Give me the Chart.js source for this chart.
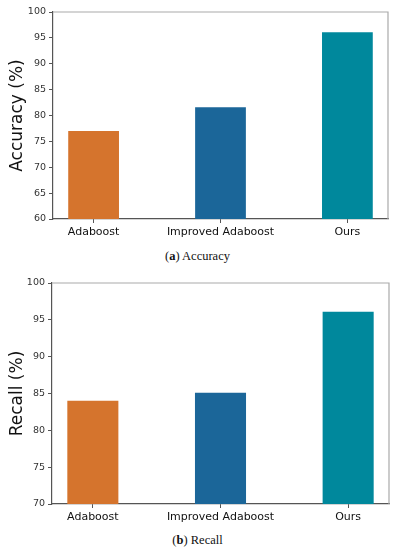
<!DOCTYPE html>
<html>
<head>
<meta charset="utf-8">
<script src="https://cdn.jsdelivr.net/npm/chart.js@4"></script>
<style>
  body { margin: 0; background: #fff; width: 395px; height: 550px; position: relative; overflow: hidden; }
  canvas { position: absolute; left: 0; }
  .caption { position: absolute; left: 0; width: 395px; text-align: center; font-family: "Liberation Serif", "DejaVu Serif", serif; font-size: 12.5px; color: #111; }
</style>
</head>
<body>
<div style="position:absolute;top:0;left:0;width:395px;height:245px"><canvas id="accChart"></canvas></div>
<div class="caption" style="top:249px">(<b>a</b>) Accuracy</div>
<div style="position:absolute;top:260px;left:0;width:395px;height:270px"><canvas id="recChart"></canvas></div>
<div class="caption" style="top:533px">(<b>b</b>) Recall</div>
<script>
const categories = ['Adaboost', 'Improved Adaboost', 'Ours'];
const barColors = ['#D5742D', '#1B6699', '#00889C'];
const accuracy = [77, 81.6, 96.1];
const recall = [84, 85.1, 96.1];
const accuracyRange = [60, 100];
const recallRange = [70, 100];

// light grey top/right frame like the matplotlib spines
const framePlugin = {
    id: 'frame',
    afterDraw(chart) {
        const a = chart.chartArea;
        const ctx = chart.ctx;
        ctx.save();
        ctx.strokeStyle = '#aaa';
        ctx.lineWidth = 1.2;
        ctx.beginPath();
        ctx.moveTo(a.left, a.top);
        ctx.lineTo(a.right, a.top);
        ctx.lineTo(a.right, a.bottom);
        ctx.stroke();
        ctx.restore();
    }
};

function makeChart(id, values, title, range, pad) {
    const ctx = document.getElementById(id).getContext('2d');
    return new Chart(ctx, {
        type: 'bar',
        data: {
            datasets: [{
                data: values.map((v, i) => ({ x: i, y: v })),
                backgroundColor: barColors,
                categoryPercentage: 1,
                barPercentage: 0.4
            }]
        },
        options: {
            responsive: true,
            maintainAspectRatio: false,
            animation: false,
            layout: { padding: pad },
            plugins: { legend: { display: false }, tooltip: { enabled: false } },
            scales: {
                x: {
                    type: 'linear',
                    offset: false,
                    min: -0.32,
                    max: 2.32,
                    afterBuildTicks: s => { s.ticks = [{ value: 0 }, { value: 1 }, { value: 2 }]; },
                    afterFit: s => { s.height = 26; },
                    grid: { offset: false, drawOnChartArea: false, tickLength: 4, color: '#555' },
                    border: { color: '#555', width: 1.2 },
                    ticks: {
                        callback: v => categories[v],
                        color: '#111',
                        padding: 3,
                        maxRotation: 0,
                        autoSkip: false,
                        font: { family: 'DejaVu Sans', size: 11 }
                    }
                },
                y: {
                    min: range[0],
                    max: range[1],
                    afterFit: s => { s.width = pad.yw; },
                    grid: { drawOnChartArea: false, tickLength: 4, color: '#555' },
                    border: { color: '#555', width: 1.2 },
                    ticks: {
                        stepSize: 5,
                        color: '#333',
                        padding: 3,
                        font: { family: 'DejaVu Sans', size: 9.5 }
                    },
                    title: {
                        display: true,
                        text: title,
                        color: '#111',
                        padding: { top: 7, bottom: 0 },
                        font: { family: 'DejaVu Sans', size: 17 }
                    }
                }
            }
        },
        plugins: [framePlugin]
    });
}

makeChart('accChart', accuracy, 'Accuracy (%)', accuracyRange, { top: 12, right: 7, bottom: 0, left: 0, yw: 53 });
makeChart('recChart', recall, 'Recall (%)', recallRange, { top: 23, right: 6, bottom: 0, left: 0, yw: 52 });
</script>
</body>
</html>
